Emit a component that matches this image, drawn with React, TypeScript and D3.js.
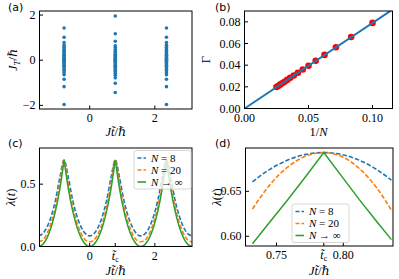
import React from 'react';
import * as d3 from 'd3';

const W = 399;
const H = 279;
const BLUE = '#1f77b4';
const ORANGE = '#ff7f0e';
const GREEN = '#2ca02c';
const NUMS = '"Liberation Serif", "DejaVu Serif", serif';
const SANS = '"DejaVu Sans", "Liberation Sans", sans-serif';

// (a) spectrum at three times
const colTimes = [-0.7854, 0.7854, 2.3562];
const specOuter = [1.43, 1.02, 0.78, 0.66, 0.58, 0.5, 0.44, 0.38, 0.32, 0.27, 0.22, 0.17, 0.12, 0.08, 0.04, 0.0,
  -0.04, -0.08, -0.12, -0.17, -0.22, -0.27, -0.33, -0.4, -0.47, -0.56, -0.64, -0.84, -1.17, -1.96];
const specMiddle = [1.96, 1.17, 0.84, 0.64, 0.56, 0.47, 0.4, 0.33, 0.27, 0.22, 0.17, 0.12, 0.08, 0.04, 0.0,
  -0.04, -0.08, -0.12, -0.17, -0.22, -0.27, -0.32, -0.38, -0.44, -0.5, -0.58, -0.66, -0.78, -1.02, -1.43];
const columns = [specOuter, specMiddle, specOuter];

// (b) decay rate vs 1/N
const invN = [0.1, 0.0833, 0.0714, 0.0625, 0.0556, 0.05, 0.0455, 0.0417, 0.0385, 0.0357, 0.0333, 0.0313, 0.0294, 0.0278, 0.0263, 0.025];
const gammaVals = [0.079, 0.066, 0.0565, 0.0495, 0.044, 0.0395, 0.036, 0.033, 0.0305, 0.0283, 0.0264, 0.0247, 0.0233, 0.022, 0.0208, 0.0198];
const fitX = [0, 0.12];
const fitY = [0, 0.0948];

// (c) rate function over time
const tC = [-1.5708, -1.4399, -1.309, -1.1781, -1.0472, -0.9163, -0.7854, -0.6545, -0.5236, -0.3927, -0.2618, -0.1309,
  0, 0.1309, 0.2618, 0.3927, 0.5236, 0.6545, 0.7854, 0.9163, 1.0472, 1.1781, 1.309, 1.4399,
  1.5708, 1.7017, 1.8326, 1.9635, 2.0944, 2.2253, 2.3562, 2.4871, 2.618, 2.7489, 2.8798, 3.0107, 3.1416];
const lamN8 = [0.085, 0.103, 0.156, 0.245, 0.374, 0.552, 0.693, 0.552, 0.374, 0.245, 0.156, 0.103,
  0.085, 0.103, 0.156, 0.245, 0.374, 0.552, 0.693, 0.552, 0.374, 0.245, 0.156, 0.103,
  0.085, 0.103, 0.156, 0.245, 0.374, 0.552, 0.693, 0.552, 0.374, 0.245, 0.156, 0.103, 0.085];
const lamN20 = [0.038, 0.052, 0.104, 0.193, 0.322, 0.5, 0.693, 0.5, 0.322, 0.193, 0.104, 0.052,
  0.038, 0.052, 0.104, 0.193, 0.322, 0.5, 0.693, 0.5, 0.322, 0.193, 0.104, 0.052,
  0.038, 0.052, 0.104, 0.193, 0.322, 0.5, 0.693, 0.5, 0.322, 0.193, 0.104, 0.052, 0.038];
const lamInf = [0, 0.0172, 0.0693, 0.1583, 0.2877, 0.4629, 0.6931, 0.4629, 0.2877, 0.1583, 0.0693, 0.0172,
  0, 0.0172, 0.0693, 0.1583, 0.2877, 0.4629, 0.6931, 0.4629, 0.2877, 0.1583, 0.0693, 0.0172,
  0, 0.0172, 0.0693, 0.1583, 0.2877, 0.4629, 0.6931, 0.4629, 0.2877, 0.1583, 0.0693, 0.0172, 0];

// (d) zoom around t_c
const tD = [0.732, 0.745, 0.758, 0.772, 0.7854, 0.799, 0.812, 0.825, 0.836];
const zoomN8 = [0.6606, 0.6745, 0.6845, 0.6911, 0.6931, 0.6909, 0.6846, 0.6743, 0.6624];
const zoomN20 = [0.6304, 0.6572, 0.6766, 0.6891, 0.6931, 0.6885, 0.6754, 0.6539, 0.6291];
const zoomInf = [0.5916, 0.6158, 0.6398, 0.6667, 0.6931, 0.6664, 0.6408, 0.6164, 0.5963];

const legendLabels = ['= 8', '= 20', '\u2192 \u221e'];

type Tick = { v: number; label: React.ReactNode };
type Box = { l: number; r: number; t: number; b: number };

const T_TILDE = 't\u0303';

function Frame({ box, x, y, xTicks, yTicks, id, children }: {
  box: Box; x: d3.ScaleLinear<number, number>; y: d3.ScaleLinear<number, number>;
  xTicks: Tick[]; yTicks: Tick[]; id: string; children?: React.ReactNode;
}) {
  return (
    <g>
      <defs>
        <clipPath id={id}>
          <rect x={box.l} y={box.t} width={box.r - box.l} height={box.b - box.t} />
        </clipPath>
      </defs>
      <g clipPath={`url(#${id})`}>{children}</g>
      <rect x={box.l} y={box.t} width={box.r - box.l} height={box.b - box.t} fill="none" stroke="#000" strokeWidth={1} />
      {xTicks.map((t, i) => (
        <g key={'x' + i}>
          <line x1={x(t.v)} x2={x(t.v)} y1={box.b} y2={box.b - 3.5} stroke="#000" />
          <text x={x(t.v)} y={box.b + 13} textAnchor="middle" fontFamily={NUMS} fontSize={12}>{t.label}</text>
        </g>
      ))}
      {yTicks.map((t, i) => (
        <g key={'y' + i}>
          <line x1={box.l} x2={box.l + 3.5} y1={y(t.v)} y2={y(t.v)} stroke="#000" />
          <text x={box.l - 4} y={y(t.v) + 4} textAnchor="end" fontFamily={NUMS} fontSize={12}>{t.label}</text>
        </g>
      ))}
    </g>
  );
}

function Legend({ x0, y0 }: { x0: number; y0: number }) {
  const cols = [BLUE, ORANGE, GREEN];
  const dashes = ['4 2', '4 2', undefined];
  return (
    <g>
      <rect x={x0} y={y0} width={57} height={38.5} rx={2} fill="#fff" fillOpacity={0.8} stroke="#ccc" strokeWidth={0.8} />
      {legendLabels.map((lab, i) => (
        <g key={i}>
          <line x1={x0 + 3.5} x2={x0 + 12} y1={y0 + 7.5 + i * 12} y2={y0 + 7.5 + i * 12} stroke={cols[i]} strokeWidth={1.6} strokeDasharray={dashes[i]} />
          <text x={x0 + 17} y={y0 + 11 + i * 12} fontFamily={NUMS} fontSize={11}>
            <tspan fontStyle="italic">N</tspan> {lab}
          </text>
        </g>
      ))}
    </g>
  );
}

const xLabelJt = (
  <>
    <tspan fontStyle="italic">J{T_TILDE}</tspan>/ℏ
  </>
);

export default function App() {
  // panel (a)
  const bA: Box = { l: 39.5, r: 192, t: 11, b: 109 };
  const xA = d3.scaleLinear().domain([-1.54, 3.14]).range([bA.l, bA.r]);
  const yA = d3.scaleLinear().domain([-2.16, 2.18]).range([bA.b, bA.t]);

  // panel (b)
  const bB: Box = { l: 244.5, r: 392.5, t: 11, b: 108.5 };
  const xB = d3.scaleLinear().domain([0, 0.1156]).range([bB.l, bB.r]);
  const yB = d3.scaleLinear().domain([0, 0.09]).range([bB.b, bB.t]);

  // panel (c)
  const bC: Box = { l: 39.5, r: 192, t: 148, b: 246.5 };
  const xC = d3.scaleLinear().domain([-1.54, 3.14]).range([bC.l, bC.r]);
  const yC = d3.scaleLinear().domain([0, 0.79]).range([bC.b, bC.t]);

  // panel (d)
  const bD: Box = { l: 245.5, r: 393, t: 148, b: 246 };
  const xD = d3.scaleLinear().domain([0.7268, 0.8372]).range([bD.l, bD.r]);
  const yD = d3.scaleLinear().domain([0.5892, 0.6982]).range([bD.b, bD.t]);

  const lineC = d3.line<[number, number]>().x(d => xC(d[0])).y(d => yC(d[1])).curve(d3.curveMonotoneX);
  const lineD = d3.line<[number, number]>().x(d => xD(d[0])).y(d => yD(d[1])).curve(d3.curveMonotoneX);
  const lineDlin = d3.line<[number, number]>().x(d => xD(d[0])).y(d => yD(d[1]));

  const ptsC = (vals: number[]) => tC.map((t, i) => [t, vals[i]] as [number, number]);
  const ptsD = (vals: number[]) => tD.map((t, i) => [t, vals[i]] as [number, number]);

  // green has cusps at the peaks: split there
  const peakIdx = lamInf.map((v, i) => i).filter(i => i > 0 && i < lamInf.length - 1 && lamInf[i] > lamInf[i - 1] && lamInf[i] > lamInf[i + 1]);
  const cuts = [0, ...peakIdx, lamInf.length - 1];
  const greenSegs = cuts.slice(1).map((c, k) => ptsC(lamInf).slice(cuts[k], c + 1));

  const tcLabel = (
    <>
      <tspan fontStyle="italic">{T_TILDE}</tspan>
      <tspan fontSize={8} dy={2}>c</tspan>
    </>
  );

  return (
    <svg width={W} height={H} style={{ position: 'absolute', left: 0, top: 0, background: '#fff' }}>
      {/* (a) */}
      <Frame box={bA} x={xA} y={yA} id="clipA"
        xTicks={[{ v: 0, label: '0' }, { v: 2, label: '2' }]}
        yTicks={[{ v: -2, label: '\u22122' }, { v: 0, label: '0' }, { v: 2, label: '2' }]}>
        {columns.map((col, ci) => col.map((v, i) => (
          <circle key={ci + '-' + i} cx={xA(colTimes[ci])} cy={yA(v)} r={1.8} fill={BLUE} />
        )))}
      </Frame>
      <text x={8} y={11} fontFamily={SANS} fontSize={11}>(a)</text>
      <text transform={`translate(17,${(bA.t + bA.b) / 2}) rotate(-90)`} textAnchor="middle" fontFamily={NUMS} fontSize={12.5}>
        <tspan fontStyle="italic">J</tspan>
        <tspan fontStyle="italic" fontSize={9} dy={3}>T</tspan>
        <tspan dy={-3}>/ℏ</tspan>
      </text>
      <text x={(bA.l + bA.r) / 2} y={136} textAnchor="middle" fontFamily={NUMS} fontSize={12.5}>{xLabelJt}</text>

      {/* (b) */}
      <Frame box={bB} x={xB} y={yB} id="clipB"
        xTicks={[0, 0.05, 0.1].map(v => ({ v, label: v.toFixed(2) }))}
        yTicks={[0, 0.02, 0.04, 0.06, 0.08].map(v => ({ v, label: v.toFixed(2) }))}>
        {invN.map((v, i) => (
          <circle key={i} cx={xB(v)} cy={yB(gammaVals[i])} r={3.3} fill="#ff0000" />
        ))}
        <line x1={xB(fitX[0])} y1={yB(fitY[0])} x2={xB(fitX[1])} y2={yB(fitY[1])} stroke={BLUE} strokeWidth={2} />
      </Frame>
      <text x={215} y={11} fontFamily={SANS} fontSize={11}>(b)</text>
      <text transform={`translate(210,${(bB.t + bB.b) / 2}) rotate(-90)`} textAnchor="middle" fontFamily={NUMS} fontSize={12.5}>Γ</text>
      <text x={(bB.l + bB.r) / 2} y={136} textAnchor="middle" fontFamily={NUMS} fontSize={12.5}>
        1/<tspan fontStyle="italic">N</tspan>
      </text>

      {/* (c) */}
      <Frame box={bC} x={xC} y={yC} id="clipC"
        xTicks={[{ v: 0, label: '0' }, { v: 0.7854, label: tcLabel }, { v: 2, label: '2' }]}
        yTicks={[{ v: 0, label: '0.0' }, { v: 0.5, label: '0.5' }]}>
        <path d={lineC(ptsC(lamN8)) || ''} fill="none" stroke={BLUE} strokeWidth={1.6} strokeDasharray="4.5 2" />
        <path d={lineC(ptsC(lamN20)) || ''} fill="none" stroke={ORANGE} strokeWidth={1.6} strokeDasharray="4.5 2" />
        {greenSegs.map((s, i) => (
          <path key={i} d={lineC(s) || ''} fill="none" stroke={GREEN} strokeWidth={1.5} />
        ))}
      </Frame>
      <Legend x0={134} y0={150.5} />
      <text x={8} y={147} fontFamily={SANS} fontSize={11}>(c)</text>
      <text transform={`translate(15,${(bC.t + bC.b) / 2}) rotate(-90)`} textAnchor="middle" fontFamily={NUMS} fontSize={12.5}>
        <tspan fontStyle="italic">λ</tspan>(<tspan fontStyle="italic">t</tspan>)
      </text>
      <text x={(bC.l + bC.r) / 2} y={275} textAnchor="middle" fontFamily={NUMS} fontSize={12.5}>{xLabelJt}</text>

      {/* (d) */}
      <Frame box={bD} x={xD} y={yD} id="clipD"
        xTicks={[{ v: 0.75, label: '0.75' }, { v: 0.7854, label: tcLabel }, { v: 0.8, label: '0.80' }]}
        yTicks={[{ v: 0.6, label: '0.60' }, { v: 0.65, label: '0.65' }]}>
        <path d={lineD(ptsD(zoomN8)) || ''} fill="none" stroke={BLUE} strokeWidth={1.6} strokeDasharray="4.5 2" />
        <path d={lineD(ptsD(zoomN20)) || ''} fill="none" stroke={ORANGE} strokeWidth={1.6} strokeDasharray="4.5 2" />
        <path d={lineDlin(ptsD(zoomInf)) || ''} fill="none" stroke={GREEN} strokeWidth={1.5} />
      </Frame>
      <Legend x0={292} y0={204} />
      <text x={215} y={147} fontFamily={SANS} fontSize={11}>(d)</text>
      <text transform={`translate(221,${(bD.t + bD.b) / 2}) rotate(-90)`} textAnchor="middle" fontFamily={NUMS} fontSize={12.5}>
        <tspan fontStyle="italic">λ</tspan>(<tspan fontStyle="italic">t</tspan>)
      </text>
      <text x={(bD.l + bD.r) / 2} y={275} textAnchor="middle" fontFamily={NUMS} fontSize={12.5}>{xLabelJt}</text>
    </svg>
  );
}
